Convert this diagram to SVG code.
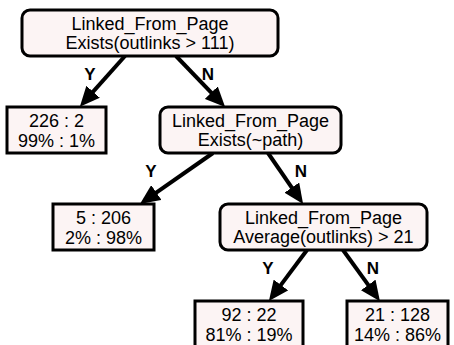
<svg xmlns="http://www.w3.org/2000/svg" width="454" height="345" viewBox="0 0 454 345">
<style>
.box{fill:#fcf4f4;stroke:#000;stroke-width:3}
.t{font-family:"Liberation Sans",Arial,sans-serif;font-size:18px;text-anchor:middle;fill:#000}
.lbl{font-family:"Liberation Sans",Arial,sans-serif;font-size:17px;font-weight:bold;text-anchor:middle;fill:#000}
.edge{stroke:#000;stroke-width:4;fill:none;marker-end:url(#ah)}
</style>
<defs>
<marker id="ah" markerUnits="userSpaceOnUse" viewBox="0 0 20 18" markerWidth="20" markerHeight="18" refX="8" refY="9" orient="auto">
<path d="M0,0 L20,9 L0,18 z" fill="#000"/>
</marker>
</defs>
<rect width="454" height="345" fill="#fff"/>
<g id="connectors">
<line class="edge" x1="125" y1="56" x2="87.8" y2="97.7"/>
<line class="edge" x1="176" y1="56" x2="216.8" y2="98.4"/>
<line class="edge" x1="213" y1="153" x2="149.8" y2="197.1"/>
<line class="edge" x1="268" y1="153" x2="296.3" y2="194.2"/>
<line class="edge" x1="307" y1="250" x2="276.1" y2="291.4"/>
<line class="edge" x1="343" y1="250" x2="372.9" y2="291.4"/>
<text class="lbl" x="90" y="80">Y</text>
<text class="lbl" x="208" y="80">N</text>
<text class="lbl" x="151" y="177">Y</text>
<text class="lbl" x="301" y="177">N</text>
<text class="lbl" x="268" y="274">Y</text>
<text class="lbl" x="373" y="274">N</text>
</g>
<g id="root">
<rect class="box" x="22" y="10" width="256" height="46" rx="8"/>
<text class="t" x="150" y="30">Linked_From_Page</text>
<text class="t" x="150" y="49">Exists(outlinks &gt; 111)</text>
</g>
<g id="leaf1">
<rect class="box" x="7" y="107" width="99" height="46"/>
<text class="t" x="56.5" y="127">226 : 2</text>
<text class="t" x="56.5" y="147">99% : 1%</text>
</g>
<g id="node2">
<rect class="box" x="160" y="107" width="181" height="46" rx="8"/>
<text class="t" x="250.5" y="127">Linked_From_Page</text>
<text class="t" x="250.5" y="146">Exists(~path)</text>
</g>
<g id="leaf2">
<rect class="box" x="53" y="204" width="101" height="46"/>
<text class="t" x="103.5" y="224">5 : 206</text>
<text class="t" x="103.5" y="244">2% : 98%</text>
</g>
<g id="node3">
<rect class="box" x="220" y="204" width="207" height="46" rx="8"/>
<text class="t" x="323.5" y="224">Linked_From_Page</text>
<text class="t" x="323.5" y="243">Average(outlinks) &gt; 21</text>
</g>
<g id="leaf3">
<rect class="box" x="195" y="301" width="108" height="46"/>
<text class="t" x="249" y="321">92 : 22</text>
<text class="t" x="249" y="341">81% : 19%</text>
</g>
<g id="leaf4">
<rect class="box" x="347" y="301" width="101" height="46"/>
<text class="t" x="397.5" y="321">21 : 128</text>
<text class="t" x="397.5" y="341">14% : 86%</text>
</g>
</svg>
